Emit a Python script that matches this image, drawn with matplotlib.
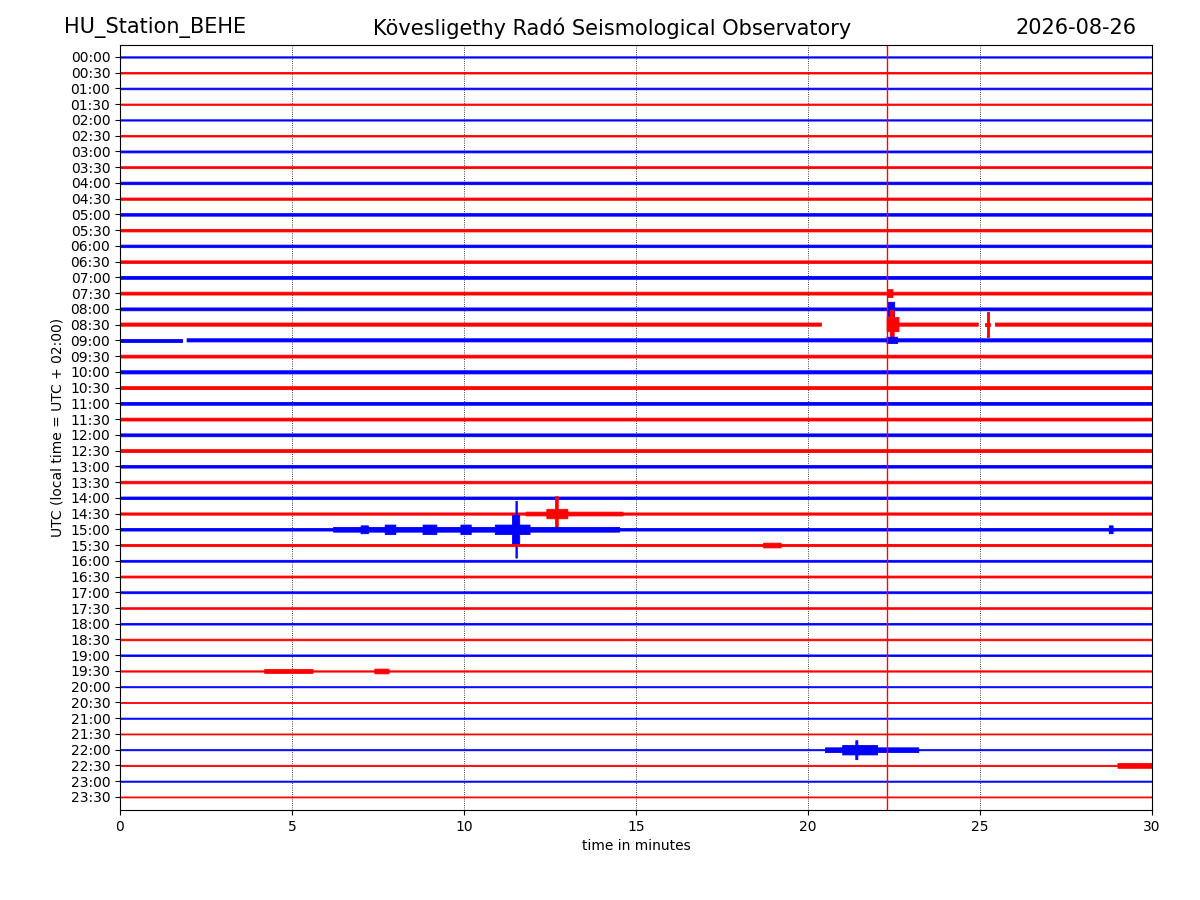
#!/usr/bin/env python3
"""Helicorder-style day plot for HU_Station_BEHE"""

import numpy as np
import matplotlib
matplotlib.use("Agg")
import matplotlib.pyplot as plt

STATION = "HU_Station_BEHE"
TITLE = "Kövesligethy Radó Seismological Observatory"
DATE = "2026-08-26"

ROW_LABELS = [f"{h:02d}:{m:02d}" for h in range(24) for m in (0, 30)]

# noise half-width of each row, in row units
BASE_AMP = [0.04, 0.05, 0.05, 0.04, 0.04, 0.05, 0.06, 0.06, 0.08, 0.07,
            0.08, 0.08, 0.08, 0.08, 0.09, 0.09, 0.09, 0.10, 0.10, 0.09,
            0.10, 0.09, 0.09, 0.09, 0.09, 0.09, 0.08, 0.08, 0.08, 0.07,
            0.08, 0.07, 0.06, 0.06, 0.06, 0.05, 0.05, 0.05, 0.05, 0.04,
            0.035, 0.035, 0.035, 0.03, 0.035, 0.04, 0.035, 0.03]

# events: (row, start min, end min, half-width in rows)
EVENTS = [
    ("07:30", 22.3, 22.45, 0.25), ("08:00", 22.3, 22.5, 0.45),
    ("08:30", 22.3, 22.65, 0.45), ("08:30", 22.4, 22.5, 0.9),
    ("08:30", 25.2, 25.27, 0.8), ("09:00", 22.3, 22.6, 0.2),
    ("14:30", 11.8, 14.6, 0.12), ("14:30", 12.4, 13.0, 0.3),
    ("14:30", 12.65, 12.72, 1.1),
    ("15:00", 6.2, 14.5, 0.15), ("15:00", 7.0, 7.2, 0.25),
    ("15:00", 7.7, 8.0, 0.3), ("15:00", 8.8, 9.2, 0.3),
    ("15:00", 9.9, 10.2, 0.3), ("15:00", 10.9, 11.9, 0.3),
    ("15:00", 11.4, 11.6, 0.9), ("15:00", 11.5, 11.54, 1.8),
    ("15:00", 28.75, 28.85, 0.25),
    ("15:30", 18.7, 19.2, 0.15),
    ("19:30", 4.2, 5.6, 0.12), ("19:30", 7.4, 7.8, 0.15),
    ("22:00", 20.5, 23.2, 0.15), ("22:00", 21.0, 22.0, 0.3),
    ("22:00", 21.38, 21.43, 0.6),
    ("22:30", 29.0, 30.0, 0.15),
]

# data gaps: (row, start min, end min)
GAPS = [("08:30", 20.4, 22.3), ("08:30", 24.95, 25.15),
        ("08:30", 25.3, 25.45), ("09:00", 1.8, 1.95)]

QUAKE_MIN = 22.3

fig = plt.figure(figsize=(12, 9), dpi=100)
ax = fig.add_axes([0.1, 0.1, 0.86, 0.85])

t = np.arange(0, 30.0001, 0.01)
for i, lab in enumerate(ROW_LABELS):
    env = np.full_like(t, BASE_AMP[i])
    for row, s, e, a in EVENTS:
        if row == lab:
            env = np.where((t >= s) & (t <= e), np.maximum(env, a), env)
    mask = np.ones_like(t, dtype=bool)
    for row, s, e in GAPS:
        if row == lab:
            mask &= ~((t > s) & (t < e))
    color = "#0000ff" if i % 2 == 0 else "#ff0000"
    y = -i
    ax.fill_between(t, y - env, y + env, where=mask, color=color,
                    linewidth=0.6, edgecolor=color, step="mid")

ax.axvline(QUAKE_MIN, color="#ff0000", linewidth=1.0)

for x in range(5, 30, 5):
    ax.axvline(x, color="black", linestyle=":", linewidth=0.6, zorder=0)

ax.set_xlim(0, 30)
ax.set_ylim(-47.83, 0.76)
ax.set_yticks([-i for i in range(len(ROW_LABELS))])
ax.set_yticklabels(ROW_LABELS)
ax.set_xticks(range(0, 31, 5))
ax.set_xlabel("time in minutes")
ax.set_ylabel("UTC (local time = UTC + 02:00)")

fig.text(0.053, 0.969, STATION, fontsize=15, ha="left", va="center")
fig.text(0.51, 0.969, TITLE, fontsize=15, ha="center", va="center")
fig.text(0.947, 0.969, DATE, fontsize=15, ha="right", va="center")

fig.savefig("out.png", dpi=100)
